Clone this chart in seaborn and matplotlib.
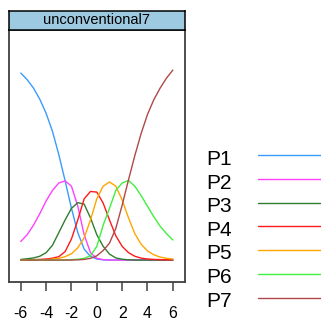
import matplotlib
matplotlib.use("Agg")
import matplotlib.pyplot as plt
import seaborn as sns
import pandas as pd
from matplotlib.lines import Line2D

# ---- data ----
theta = [-6.0, -5.5, -5.0, -4.5, -4.0, -3.5, -3.0, -2.5, -2.0, -1.5, -1.0, -0.5,
         0.0, 0.5, 1.0, 1.5, 2.0, 2.5, 3.0, 3.5, 4.0, 4.5, 5.0, 5.5, 6.0]

P1 = [0.886, 0.855, 0.815, 0.762, 0.695, 0.61, 0.5, 0.375, 0.245, 0.13, 0.052, 0.017,
      0.005, 0.001, 0, 0, 0, 0, 0, 0, 0, 0, 0, 0, 0]
P2 = [0.088, 0.12, 0.165, 0.22, 0.28, 0.33, 0.365, 0.375, 0.35, 0.255, 0.12, 0.035,
      0.008, 0.002, 0, 0, 0, 0, 0, 0, 0, 0, 0, 0, 0]
P3 = [0.003, 0.006, 0.01, 0.018, 0.035, 0.07, 0.13, 0.19, 0.245, 0.272, 0.265, 0.2,
      0.12, 0.065, 0.028, 0.01, 0.004, 0.001, 0, 0, 0, 0, 0, 0, 0]
P4 = [0, 0.001, 0.002, 0.003, 0.005, 0.009, 0.016, 0.04, 0.1, 0.19, 0.29, 0.325,
      0.322, 0.27, 0.19, 0.115, 0.065, 0.035, 0.018, 0.009, 0.005, 0.003, 0.002, 0.001, 0.001]
P5 = [0, 0, 0.001, 0.001, 0.002, 0.004, 0.008, 0.016, 0.03, 0.058, 0.105, 0.19,
      0.29, 0.35, 0.37, 0.35, 0.285, 0.2, 0.125, 0.075, 0.043, 0.025, 0.014, 0.008, 0.005]
P6 = [0, 0, 0, 0, 0, 0, 0, 0, 0.002, 0.004, 0.008, 0.02,
      0.065, 0.165, 0.245, 0.33, 0.365, 0.377, 0.35, 0.305, 0.255, 0.205, 0.16, 0.125, 0.095]
P7 = [0, 0, 0, 0, 0, 0, 0, 0, 0, 0.001, 0.003, 0.008,
      0.02, 0.045, 0.08, 0.15, 0.26, 0.38, 0.495, 0.6, 0.69, 0.76, 0.815, 0.862, 0.9]

categories = ["P1", "P2", "P3", "P4", "P5", "P6", "P7"]
series = [P1, P2, P3, P4, P5, P6, P7]
colors = ["#3A9BFF", "#FF40FF", "#2E7D2E", "#FF1A1A", "#FFA500", "#40F040", "#B04848"]
strip_title = "unconventional7"
xticks = [-6, -4, -2, 0, 2, 4, 6]

# ---- style ----
sns.set_theme(style="white")
plt.rcParams['font.family'] = ['Liberation Sans', 'DejaVu Sans']
plt.rcParams['axes.unicode_minus'] = False

W, H = 321, 320
fig = plt.figure(figsize=(W / 100, H / 100), dpi=100)
fig.patch.set_facecolor("white")

df = pd.DataFrame({
    "theta": theta * len(categories),
    "prob": [v for s in series for v in s],
    "category": [c for c in categories for _ in theta],
})

ax = fig.add_axes([9 / W, 1 - 282 / H, 176 / W, 252 / H])
sns.lineplot(data=df, x="theta", y="prob", hue="category",
             palette=dict(zip(categories, colors)), estimator=None,
             legend=False, ax=ax, linewidth=1.0)
ax.set_xlim(-6.93, 6.96)
ax.set_ylim(-0.104, 1.09)
ax.set_xticks(xticks)
ax.set_xticklabels([str(t) for t in xticks])
ax.set_yticks([])
ax.set_xlabel("")
ax.set_ylabel("")
ax.set_facecolor("white")
for sp in ax.spines.values():
    sp.set_color("#404040")
    sp.set_linewidth(1.3)
ax.tick_params(axis="x", bottom=True, direction="out", length=6.5, width=1.1,
               color="#404040", pad=10.5, labelsize=11.5, labelcolor="black")

# strip
sax = fig.add_axes([9 / W, 1 - 30 / H, 176 / W, 19 / H])
sax.set_facecolor("#9ECAE1")
sax.set_xticks([])
sax.set_yticks([])
for sp in sax.spines.values():
    sp.set_color("black")
    sp.set_linewidth(1.1)
sax.text(0.5, 0.5, strip_title, ha="center", va="center", fontsize=10.5,
         color="black", transform=sax.transAxes)

# legend (text left, line right)
for i, (cat, col) in enumerate(zip(categories, colors)):
    ty = 165 + i * 23.6
    ly = 155 + i * 23.8
    fig.text(206 / W, 1 - ty / H, cat, fontsize=15, va="baseline", ha="left", color="black")
    fig.add_artist(Line2D([258 / W, 1.0], [1 - ly / H, 1 - ly / H], color=col,
                          lw=1.0, transform=fig.transFigure))

fig.savefig("out.png", dpi=100)
